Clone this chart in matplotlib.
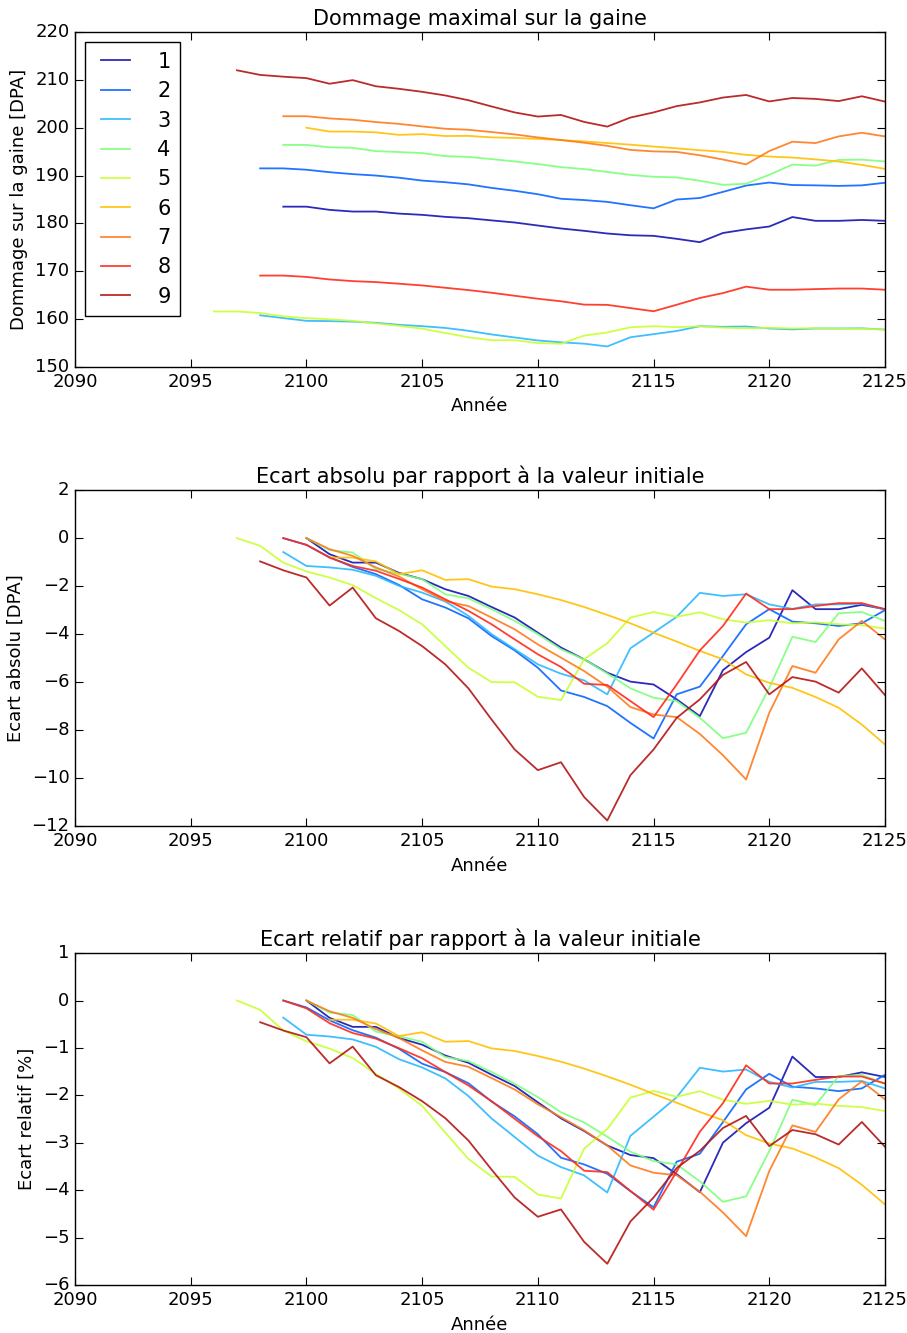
import matplotlib
matplotlib.use("Agg")
import matplotlib.pyplot as plt
import numpy as np

plt.style.use("classic")

# series names, first year and value at first year (top panel)
labels = ["1", "2", "3", "4", "5", "6", "7", "8", "9"]
start_years = [2099, 2098, 2098, 2099, 2096, 2100, 2099, 2098, 2097]
base_values = [183.5, 191.5, 160.8, 196.4, 161.6, 200.0, 202.4, 169.1, 212.0]
colors = ["#1414b4", "#0a64ff", "#2ab8ff", "#7dff7a", "#c8ff32",
          "#ffc000", "#ff7a1a", "#ff2a1a", "#b41414"]

# absolute gap to initial value [DPA], from start_year+1 to 2125
diff1 = [0.0, -0.67, -1.02, -1.02, -1.45, -1.71, -2.13, -2.41, -2.87, -3.31,
         -3.94, -4.56, -5.05, -5.61, -5.98, -6.10, -6.72, -7.42, -5.50, -4.75,
         -4.15, -2.17, -2.96, -2.96, -2.78, -2.96]
diff2 = [0.0, -0.28, -0.80, -1.20, -1.50, -1.95, -2.55, -2.89, -3.34, -4.08,
         -4.68, -5.40, -6.35, -6.62, -7.00, -7.70, -8.35, -6.51, -6.19, -4.91,
         -3.59, -2.96, -3.48, -3.55, -3.66, -3.55, -3.00]
diff3 = [-0.58, -1.16, -1.22, -1.32, -1.57, -1.99, -2.27, -2.64, -3.24, -4.00,
         -4.63, -5.26, -5.65, -5.93, -6.51, -4.59, -3.94, -3.28, -2.28, -2.41,
         -2.34, -2.76, -2.95, -2.76, -2.76, -2.73, -2.98]
diff4 = [0.0, -0.50, -0.60, -1.29, -1.48, -1.71, -2.34, -2.51, -2.96, -3.45,
         -4.00, -4.63, -5.05, -5.64, -6.26, -6.65, -6.79, -7.49, -8.34, -8.11,
         -6.24, -4.11, -4.33, -3.13, -3.08, -3.45]
diff5 = [0.0, -0.32, -1.02, -1.39, -1.64, -1.96, -2.50, -3.00, -3.59, -4.50,
         -5.40, -6.00, -6.01, -6.61, -6.75, -5.05, -4.38, -3.31, -3.08, -3.28,
         -3.09, -3.38, -3.52, -3.42, -3.55, -3.51, -3.59, -3.63, -3.77]
diff6 = [-0.81, -0.81, -0.97, -1.50, -1.34, -1.74, -1.71, -2.02, -2.13, -2.34,
         -2.58, -2.87, -3.20, -3.55, -3.94, -4.31, -4.70, -5.05, -5.68, -6.03,
         -6.24, -6.62, -7.07, -7.77, -8.60]
diff7 = [0.0, -0.46, -0.74, -1.22, -1.60, -2.13, -2.62, -2.83, -3.31, -3.80,
         -4.43, -4.98, -5.54, -6.19, -7.04, -7.35, -7.46, -8.16, -9.05, -10.06,
         -7.28, -5.33, -5.61, -4.22, -3.45, -4.22]
diff8 = [0.0, -0.28, -0.81, -1.16, -1.36, -1.70, -2.06, -2.55, -3.03, -3.59,
         -4.22, -4.84, -5.37, -6.07, -6.12, -6.79, -7.46, -6.10, -4.68, -3.66,
         -2.31, -2.96, -2.96, -2.83, -2.71, -2.71, -2.96]
diff9 = [-0.97, -1.34, -1.64, -2.81, -2.06, -3.34, -3.87, -4.50, -5.26, -6.26,
         -7.56, -8.81, -9.67, -9.34, -10.79, -11.77, -9.88, -8.81, -7.49, -6.72,
         -5.70, -5.16, -6.51, -5.79, -5.98, -6.44, -5.43, -6.54]
diffs = [diff1, diff2, diff3, diff4, diff5, diff6, diff7, diff8, diff9]

fig = plt.figure(figsize=(9.07, 13.33), dpi=100, facecolor="white")
ax_top = fig.add_axes([0.0827, 0.7247, 0.893, 0.2513])
ax_abs = fig.add_axes([0.0827, 0.3803, 0.893, 0.2520])
ax_rel = fig.add_axes([0.0827, 0.0360, 0.893, 0.2490])

for lab, y0, v0, d, c in zip(labels, start_years, base_values, diffs, colors):
    d = np.array(d)
    yrs = np.arange(y0 + 1, y0 + 1 + len(d))
    ax_top.plot(np.r_[y0, yrs], np.r_[v0, v0 + d], color=c, lw=1.3, alpha=0.9, label=lab)
    ax_abs.plot(yrs, d, color=c, lw=1.3, alpha=0.9)
    ax_rel.plot(yrs, 100.0 * d / v0, color=c, lw=1.3, alpha=0.9)

fs_tick = 13
for ax in (ax_top, ax_abs, ax_rel):
    ax.set_xlim(2090, 2125)
    ax.set_xticks(np.arange(2090, 2126, 5))
    ax.tick_params(labelsize=fs_tick, direction="in", length=6, width=0.8)
    ax.set_xlabel("Année", fontsize=13)
    for s in ax.spines.values():
        s.set_linewidth(1.0)

ax_top.set_ylim(150, 220)
ax_top.set_yticks(np.arange(150, 221, 10))
ax_top.set_title("Dommage maximal sur la gaine", fontsize=15)
ax_top.set_ylabel("Dommage sur la gaine [DPA]", fontsize=13)
leg = ax_top.legend(loc="upper left", fontsize=15, frameon=True, fancybox=False,
                    handlelength=2.0, handletextpad=1.0, labelspacing=0.45,
                    borderpad=0.45, borderaxespad=0.5)
leg.get_frame().set_edgecolor("black")

ax_abs.set_ylim(-12, 2)
ax_abs.set_yticks(np.arange(-12, 3, 2))
ax_abs.set_title("Ecart absolu par rapport à la valeur initiale", fontsize=15)
ax_abs.set_ylabel("Ecart absolu [DPA]", fontsize=13)

ax_rel.set_ylim(-6, 1)
ax_rel.set_yticks(np.arange(-6, 2, 1))
ax_rel.set_title("Ecart relatif par rapport à la valeur initiale", fontsize=15)
ax_rel.set_ylabel("Ecart relatif [%]", fontsize=13)

fig.savefig("out.png", dpi=100, facecolor="white")
